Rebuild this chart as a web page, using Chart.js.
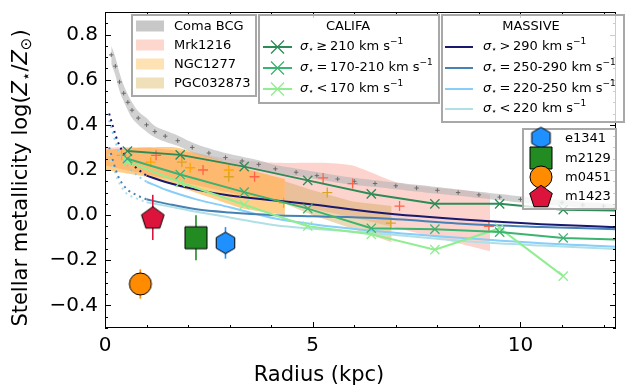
<!DOCTYPE html>
<html><head><meta charset="utf-8">
<script src="https://cdn.jsdelivr.net/npm/chart.js@4/dist/chart.umd.min.js"></script>
<style>html,body{margin:0;padding:0;background:#fff;overflow:hidden;}#wrap{width:626px;height:390px;overflow:hidden;}</style>
</head><body><div id="wrap"><canvas id="c" width="628" height="390"></canvas></div>
<script>
// ---------- DATA ----------
const xTickVals = [0, 5, 10];
const xTickLabels = ['0', '5', '10'];
const yTickVals = [-0.4, -0.2, 0.0, 0.2, 0.4, 0.6, 0.8];
const yTickLabels = ['\u22120.4', '\u22120.2', '0.0', '0.2', '0.4', '0.6', '0.8'];

// Coma BCG profile (band + centre markers)
const comaX  = [0.15,0.25,0.35,0.45,0.55,0.65,0.8,1.0,1.2,1.45,1.75,2.1,2.5,2.9,3.3,3.7,4.1,4.6,5.1,5.6,6.0,6.5,7.0,7.5,8.0,8.5,9.0,9.5,10.0,10.5,11.0,11.5,12.0,12.3];
const comaY  = [0.71,0.66,0.59,0.54,0.50,0.465,0.43,0.40,0.37,0.35,0.33,0.30,0.275,0.255,0.24,0.225,0.205,0.19,0.175,0.16,0.15,0.14,0.13,0.12,0.11,0.10,0.09,0.08,0.07,0.06,0.055,0.045,0.04,0.035];
const comaHi = [0.75,0.70,0.63,0.575,0.535,0.50,0.46,0.43,0.395,0.375,0.353,0.322,0.296,0.275,0.259,0.243,0.222,0.207,0.191,0.176,0.166,0.155,0.145,0.135,0.125,0.114,0.104,0.094,0.084,0.074,0.068,0.058,0.053,0.048];
const comaLo = [0.67,0.62,0.55,0.505,0.465,0.43,0.40,0.37,0.345,0.325,0.307,0.278,0.254,0.235,0.221,0.207,0.188,0.173,0.159,0.144,0.134,0.125,0.115,0.105,0.095,0.086,0.076,0.066,0.056,0.046,0.042,0.032,0.027,0.022];

// Relic galaxies: bands
const mrkBandX  = [0, 1, 2, 3, 4.1, 5.2, 5.96, 7.1, 8.84, 9.27];
const mrkBandHi = [0.30, 0.30, 0.28, 0.25, 0.232, 0.232, 0.22, 0.141, 0.106, 0.09];
const mrkBandLo = [0.22, 0.18, 0.14, 0.10, 0.06, 0.02, -0.01, -0.06, -0.14, -0.16];
const ngcBandX  = [0, 1, 1.7, 2.5, 3.3, 4.33];
const ngcBandHi = [0.29, 0.30, 0.30, 0.26, 0.21, 0.16];
const ngcBandLo = [0.20, 0.17, 0.13, 0.08, 0.03, 0.0];
const pgcBandX  = [4.33, 5.0, 5.96, 6.9];
const pgcBandHi = [0.15, 0.11, 0.06, 0.04];
const pgcBandLo = [0.05, 0.0, -0.06, -0.12];
// Relic galaxies: '+' points
const mrkPtX = [1.23, 2.36, 3.6, 5.25, 5.96, 7.09, 9.24];
const mrkPtY = [0.265, 0.20, 0.17, 0.165, 0.14, 0.04, -0.05];
const ngcPtX = [0.4, 1.1, 2.05, 2.98, 4.3];
const ngcPtY = [0.265, 0.235, 0.21, 0.20, 0.055];
const pgcPtX = [1.85, 2.98, 5.35, 6.88];
const pgcPtY = [0.235, 0.17, 0.10, -0.035];

// CALIFA
const califaR    = [0.54, 1.81, 3.35, 4.88, 6.41, 7.94, 9.5, 11.03, 12.6];
const califaHigh = [0.284, 0.267, 0.215, 0.154, 0.094, 0.05, 0.05, 0.024, 0.02];
const califaMid  = [0.25, 0.18, 0.102, 0.029, -0.058, -0.062, -0.075, -0.101, -0.11];
const califaLowR = [0.54, 1.81, 3.35, 4.88, 6.41, 7.94, 9.5, 11.03];
const califaLow  = [0.237, 0.146, 0.046, -0.049, -0.085, -0.153, -0.058, -0.27];

// MASSIVE
const massR      = [1.0, 1.5, 2.2, 3.0, 4.1, 5.0, 6.5, 8.8, 10.5, 12.4];
const massGt290  = [0.175, 0.145, 0.113, 0.087, 0.065, 0.047, 0.013, -0.022, -0.04, -0.054];
const mass250    = [0.07, 0.05, 0.026, 0.012, 0.0, -0.005, -0.013, -0.04, -0.052, -0.063];
const mass220    = [0.148, 0.11, 0.07, 0.035, -0.015, -0.04, -0.07, -0.104, -0.125, -0.141];
const massLt220  = [0.057, 0.04, 0.015, -0.01, -0.045, -0.06, -0.08, -0.117, -0.135, -0.151];
const massDotR   = [0.1, 0.3, 0.5, 0.75, 1.0];
const dotGt290   = [0.45, 0.33, 0.26, 0.21, 0.175];
const dot250     = [0.30, 0.18, 0.12, 0.09, 0.07];
const dot220     = [0.42, 0.30, 0.23, 0.18, 0.148];
const dotLt220   = [0.27, 0.16, 0.10, 0.075, 0.057];

// Individual galaxies
const galNames = ['e1341', 'm2129', 'm0451', 'm1423'];
const galR     = [2.9, 2.19, 0.85, 1.15];
const galZ     = [-0.123, -0.10, -0.305, -0.01];
const galErr   = [0.07, 0.10, 0.065, 0.10];

// ---------- STYLE ----------
const C = {
  coma: 'rgba(185,185,185,0.65)', comaPt: '#6a6a6a',
  mrk: 'rgba(250,128,114,0.35)', ngc: 'rgba(255,160,20,0.5)', pgc: 'rgba(210,170,90,0.45)',
  mrkPt: '#ff6347', ngcPt: '#ffa500', pgcPt: '#daa520',
  cHigh: '#2e8b57', cMid: '#3cb371', cLow: '#90ee90',
  m1: '#191970', m2: '#4682b4', m3: '#87cefa', m4: '#b0e0e6',
  gal: ['#1e90ff', '#228b22', '#ff8c00', '#dc143c']
};
const galShapes = ['hex', 'square', 'circle', 'pent'];

function zip(xa, ya) { return xa.map((x, i) => ({x: x, y: ya[i]})); }

function makeMarker(shape, fill, size) {
  const c = document.createElement('canvas');
  c.width = size + 4; c.height = size + 4;
  const g = c.getContext('2d');
  const cx = c.width / 2, cy = c.height / 2, r = size / 2;
  g.beginPath();
  if (shape === 'circle') g.arc(cx, cy, r, 0, Math.PI * 2);
  else if (shape === 'square') g.rect(cx - r, cy - r, 2 * r, 2 * r);
  else {
    const n = shape === 'hex' ? 6 : 5;
    const rr = shape === 'hex' ? r * 1.02 : r * 1.08;
    for (let k = 0; k < n; k++) {
      const a = -Math.PI / 2 + k * 2 * Math.PI / n;
      const px = cx + rr * Math.cos(a), py = cy + rr * Math.sin(a) + (shape === 'pent' ? r * 0.1 : 0);
      if (k === 0) g.moveTo(px, py); else g.lineTo(px, py);
    }
    g.closePath();
  }
  g.fillStyle = fill; g.fill();
  g.lineWidth = 1; g.strokeStyle = '#000'; g.stroke();
  return c;
}
const galSizes = [21, 22, 22, 22];
const galImgs = galShapes.map((s, i) => makeMarker(s, C.gal[i], galSizes[i]));

// ---------- DATASETS (painting order: first = bottom) ----------
const sets = [];
function band(xa, hi, lo, color, tension) {
  sets.push({data: zip(xa, hi), borderWidth: 0, pointRadius: 0, fill: false, tension: tension || 0, showLine: true});
  sets.push({data: zip(xa, lo), borderWidth: 0, pointRadius: 0, fill: '-1', backgroundColor: color, tension: tension || 0, showLine: true});
}
band(mrkBandX, mrkBandHi, mrkBandLo, C.mrk, 0.2);
band(ngcBandX, ngcBandHi, ngcBandLo, C.ngc, 0.2);
band(pgcBandX, pgcBandHi, pgcBandLo, C.pgc, 0);
band(comaX, comaHi, comaLo, C.coma, 0.4);
sets.push({data: zip(comaX, comaY), showLine: false, pointStyle: 'cross', pointRadius: 2.2, pointBorderWidth: 1, pointBorderColor: C.comaPt, pointBackgroundColor: C.comaPt});

function plus(xa, ya, color) {
  sets.push({data: zip(xa, ya), showLine: false, pointStyle: 'cross', pointRadius: 5, pointBorderWidth: 1.3, pointBorderColor: color, pointBackgroundColor: color});
}
plus(mrkPtX, mrkPtY, C.mrkPt);
plus(ngcPtX, ngcPtY, C.ngcPt);
plus(pgcPtX, pgcPtY, C.pgcPt);

function mline(xa, ya, color, dotted) {
  sets.push({data: zip(xa, ya), borderColor: color, borderWidth: 2, borderDash: dotted ? [2, 4] : [], pointRadius: 0, fill: false, cubicInterpolationMode: 'monotone'});
}
mline(massDotR, dotLt220, C.m4, true);
mline(massDotR, dot220, C.m3, true);
mline(massDotR, dot250, C.m2, true);
mline(massDotR, dotGt290, C.m1, true);
mline(massR, massLt220, C.m4, false);
mline(massR, mass220, C.m3, false);
mline(massR, mass250, C.m2, false);
mline(massR, massGt290, C.m1, false);

function cline(xa, ya, color) {
  sets.push({data: zip(xa, ya), borderColor: color, borderWidth: 2, fill: false, tension: 0, pointStyle: 'crossRot', pointRadius: 6.5, pointBorderWidth: 1.3, pointBorderColor: color, pointBackgroundColor: color});
}
cline(califaLowR, califaLow, C.cLow);
cline(califaR, califaMid, C.cMid);
cline(califaR, califaHigh, C.cHigh);

galR.forEach((r, i) => {
  sets.push({data: [{x: r, y: galZ[i] - galErr[i]}, {x: r, y: galZ[i] + galErr[i]}], borderColor: C.gal[i], borderWidth: 1.6, pointRadius: 0, fill: false});
});
galR.forEach((r, i) => {
  sets.push({data: [{x: r, y: galZ[i]}], showLine: false, pointStyle: galImgs[i], pointRadius: 11});
});
sets.forEach((d, i) => { d.order = sets.length - i; });

// ---------- DECORATION PLUGIN ----------
const FT = '"DejaVu Sans", sans-serif';
function rich(ctx, x, y, segs, measureOnly) {
  let cx = x;
  for (const s of segs) {
    ctx.font = s.f;
    if (!measureOnly) ctx.fillText(s.t, cx, y + (s.dy || 0));
    cx += ctx.measureText(s.t).width;
  }
  return cx - x;
}
const LF = '13px ' + FT, LI = 'italic 13px ' + FT, LS = '9px ' + FT;
function sig(rel, rest) {
  return [{t: '\u03C3', f: LI}, {t: '\u22C6', f: LS, dy: 3}, {t: rel, f: LF}, {t: rest + ' km s', f: LF}, {t: '\u22121', f: LS, dy: -5}];
}
function drawX(ctx, x, y, r, color) {
  ctx.strokeStyle = color; ctx.lineWidth = 1.3;
  ctx.beginPath(); ctx.moveTo(x - r, y - r); ctx.lineTo(x + r, y + r); ctx.moveTo(x - r, y + r); ctx.lineTo(x + r, y - r); ctx.stroke();
}
function box(ctx, x0, y0, x1, y1) {
  ctx.fillStyle = 'rgba(255,255,255,0.8)';
  ctx.fillRect(x0, y0, x1 - x0, y1 - y0);
  ctx.strokeStyle = '#a8a8a8'; ctx.lineWidth = 2;
  ctx.strokeRect(x0, y0, x1 - x0, y1 - y0);
}
function drawAxes(chart) {
  const ctx = chart.ctx, a = chart.chartArea;
  const xs = chart.scales.x, ys = chart.scales.y;
  const X = v => xs.getPixelForValue(v), Y = v => ys.getPixelForValue(v);
  ctx.save();
  ctx.strokeStyle = '#000'; ctx.lineWidth = 1;
  ctx.strokeRect(a.left + 0.5, a.top + 0.5, a.right - a.left - 1, a.bottom - a.top - 1);
  ctx.beginPath();
  for (let v = 0; v <= 12; v++) {
    const major = xTickVals.indexOf(v) >= 0; const L = major ? 6 : 3;
    const px = Math.round(X(v)) + 0.5;
    ctx.moveTo(px, a.bottom); ctx.lineTo(px, a.bottom - L);
    ctx.moveTo(px, a.top); ctx.lineTo(px, a.top + L);
  }
  for (let k = -10; k <= 18; k++) {
    const v = k * 0.05; const major = (k % 4 === 0) && k >= -8 && k <= 16; const L = major ? 6 : 3;
    const py = Math.round(Y(v)) + 0.5;
    ctx.moveTo(a.left, py); ctx.lineTo(a.left + L, py);
    ctx.moveTo(a.right, py); ctx.lineTo(a.right - L, py);
  }
  ctx.stroke();
  ctx.fillStyle = '#000';
  ctx.font = '20px ' + FT;
  ctx.textAlign = 'center'; ctx.textBaseline = 'middle';
  xTickVals.forEach((v, i) => ctx.fillText(xTickLabels[i], X(v), 346));
  ctx.textAlign = 'right';
  yTickVals.forEach((v, i) => ctx.fillText(yTickLabels[i], 98, Y(v)));
  ctx.textAlign = 'center';
  ctx.font = '21px ' + FT;
  ctx.fillText('Radius (kpc)', 319, 376);
  const TF = '21px ' + FT, TI = 'italic 21px ' + FT, TS = '15px ' + FT;
  const segs = [{t: 'Stellar metallicity log(', f: TF}, {t: 'Z', f: TI}, {t: '\u22C6', f: TS, dy: 5}, {t: '/', f: TF}, {t: 'Z', f: TI}, {t: '\u2299', f: TS, dy: 5}, {t: ')', f: TF}];
  ctx.translate(22, 178); ctx.rotate(-Math.PI / 2);
  ctx.textAlign = 'left';
  const w = rich(ctx, 0, 0, segs, true);
  rich(ctx, -w / 2, 0, segs);
  ctx.restore();
}
function drawLegends(chart) {
  const ctx = chart.ctx;
  ctx.save();
  ctx.textBaseline = 'middle'; ctx.textAlign = 'left';
  box(ctx, 132, 15, 256, 96);
  const b1 = [['Coma BCG', 'rgb(200,200,200)'], ['Mrk1216', 'rgb(253,214,206)'], ['NGC1277', 'rgb(255,226,180)'], ['PGC032873', 'rgb(240,224,186)']];
  const b1y = [26, 45, 64, 83];
  b1.forEach((e, i) => {
    ctx.fillStyle = e[1]; ctx.fillRect(136, b1y[i] - 5.5, 28, 11);
    ctx.fillStyle = '#000'; ctx.font = LF; ctx.fillText(e[0], 174, b1y[i] + 1);
  });
  box(ctx, 259, 15, 439, 103);
  ctx.fillStyle = '#000'; ctx.font = LF; ctx.textAlign = 'center'; ctx.fillText('CALIFA', 348, 27); ctx.textAlign = 'left';
  const b2 = [[C.cHigh, '\u2009\u2265\u2009', '210'], [C.cMid, '\u2009=\u2009', '170-210'], [C.cLow, '\u2009<\u2009', '170']];
  const b2y = [47, 68, 89];
  b2.forEach((e, i) => {
    ctx.strokeStyle = e[0]; ctx.lineWidth = 2;
    ctx.beginPath(); ctx.moveTo(263, b2y[i]); ctx.lineTo(292, b2y[i]); ctx.stroke();
    drawX(ctx, 277.5, b2y[i], 6.5, e[0]);
    ctx.fillStyle = '#000'; rich(ctx, 300, b2y[i], sig(e[1], e[2]));
  });
  box(ctx, 442, 15, 624, 122);
  ctx.fillStyle = '#000'; ctx.font = LF; ctx.textAlign = 'center'; ctx.fillText('MASSIVE', 531, 27); ctx.textAlign = 'left';
  const b3 = [[C.m1, '\u2009>\u2009', '290'], [C.m2, '\u2009=\u2009', '250-290'], [C.m3, '\u2009=\u2009', '220-250'], [C.m4, '\u2009<\u2009', '220']];
  const b3y = [47, 68, 89, 109];
  b3.forEach((e, i) => {
    ctx.strokeStyle = e[0]; ctx.lineWidth = 2;
    ctx.beginPath(); ctx.moveTo(445, b3y[i]); ctx.lineTo(473, b3y[i]); ctx.stroke();
    ctx.fillStyle = '#000'; rich(ctx, 483, b3y[i], sig(e[1], e[2]));
  });
  box(ctx, 523, 129, 616, 209);
  const b4y = [138, 158, 177, 196];
  galNames.forEach((n, i) => {
    const im = galImgs[i];
    ctx.drawImage(im, 541 - im.width / 2, b4y[i] - im.height / 2);
    ctx.fillStyle = '#000'; ctx.font = LF; ctx.fillText(n, 565, b4y[i] + 1);
  });
  ctx.restore();
}
const decor = {
  id: 'decor',
  afterDatasetsDraw(chart) { drawAxes(chart); drawLegends(chart); }
};

new Chart(document.getElementById('c'), {
  type: 'line',
  data: {datasets: sets},
  options: {
    responsive: false, animation: false, devicePixelRatio: 1,
    layout: {padding: {top: 5, right: 1, left: 0, bottom: 0}},
    plugins: {legend: {display: false}, tooltip: {enabled: false}},
    elements: {line: {borderCapStyle: 'butt'}},
    scales: {
      x: {type: 'linear', min: 0, max: 12.3, grid: {display: false}, border: {display: false}, ticks: {display: false},
          afterFit: s => { s.height = 62; }},
      y: {type: 'linear', min: -0.5, max: 0.9, grid: {display: false}, border: {display: false}, ticks: {display: false},
          afterFit: s => { s.width = 105; }}
    }
  },
  plugins: [decor]
});
</script>
</body></html>
